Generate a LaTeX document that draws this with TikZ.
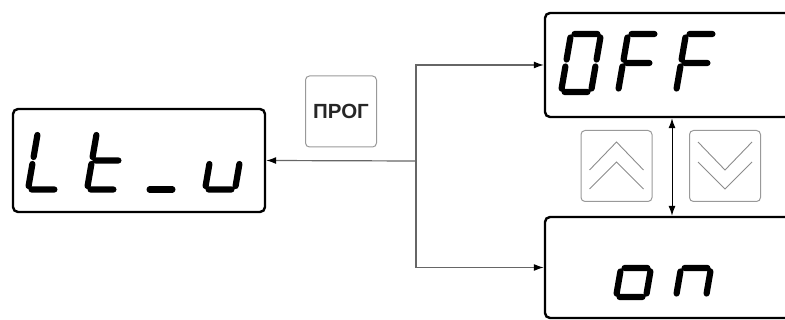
\documentclass[tikz,border=0pt]{standalone}
\usepackage{fontspec}
\newfontfamily\arialfont{Liberation Sans}
\usetikzlibrary{arrows.meta}
\begin{document}
\begin{tikzpicture}[x=1pt,y=-1pt,
  dispbox/.style={draw=black, line width=2.4pt, rounded corners=5pt, inner sep=0pt},
  keybox/.style={draw=black!40, line width=1pt, rounded corners=4pt, inner sep=0pt, minimum width=71pt, minimum height=71pt},
  chev/.style={draw=black!45, line width=0.9pt},
  conn/.style={draw=black!60, line width=1.2pt, -{Latex[length=10pt,width=7pt,color=black]}},
  dblarrow/.style={draw=black, line width=1pt, {Latex[length=10pt,width=7pt]}-{Latex[length=10pt,width=7pt]}},
  segline/.style={line width=6.2pt, line cap=round, draw=black},
  sa/.style={insert path={(13.6,-58) -- (36.4,-58)}},
  sb/.style={insert path={(39.4,-54.5) -- (35.6,-32.5)}},
  sc/.style={insert path={(34.4,-25.5) -- (30.6,-3.5)}},
  sd/.style={insert path={(3.6,0) -- (26.4,0)}},
  se/.style={insert path={(0.6,-3.5) -- (4.4,-25.5)}},
  sf/.style={insert path={(5.6,-32.5) -- (9.4,-54.5)}},
  sg/.style={insert path={(8.6,-29) -- (31.4,-29)}}
]
\newcommand\sdigit[2]{\begin{scope}[shift={#1}]\draw[segline,#2];\end{scope}}
\useasboundingbox (0,0) rectangle (785,320);
\clip (0,0) rectangle (785,320);

% display boxes
\node[dispbox, minimum width=252pt, minimum height=103pt] (ltu) at (139,160.5) {};
\node[dispbox, minimum width=260pt, minimum height=104pt] (off) at (675,65) {};
\node[dispbox, minimum width=260pt, minimum height=101pt] (on) at (675,267.5) {};

% keys
\node[keybox, font=\arialfont\bfseries\fontsize{20.5}{22}\selectfont, text=black!85] (prog) at (341,111.5) {ПРОГ};
\node[keybox] (up) at (616.5,166) {};
\node[keybox] (down) at (725,166) {};

\draw[chev] ([shift={(-27,4)}]up.center) -- ([shift={(0,-24)}]up.center) -- ([shift={(27,4)}]up.center);
\draw[chev] ([shift={(-27,23)}]up.center) -- ([shift={(0,-4)}]up.center) -- ([shift={(27,23)}]up.center);
\draw[chev] ([shift={(-27,-24)}]down.center) -- ([shift={(0,4)}]down.center) -- ([shift={(27,-24)}]down.center);
\draw[chev] ([shift={(-27,-4)}]down.center) -- ([shift={(0,23)}]down.center) -- ([shift={(27,-4)}]down.center);

% connectors
\coordinate (br) at (416,161);
\draw[conn] (br) -- (ltu.east);
\draw[conn] (br) |- (off.west);
\draw[conn] (br) |- (on.west);
\coordinate (dx) at (672,167);
\draw[dblarrow] (dx |- off.south) -- (dx |- on.north);

% seven-segment text: Lt_u
\sdigit{(28,189.5)}{sd,se,sf}
\sdigit{(87,189.5)}{sd,se,sf,sg}
\sdigit{(146,189.5)}{sd}
\sdigit{(205,189.5)}{sc,sd,se}
% OFF
\sdigit{(561,92)}{sa,sb,sc,sd,se,sf}
\sdigit{(618,92)}{sa,se,sf,sg}
\sdigit{(676,92)}{sa,se,sf,sg}
% on
\sdigit{(616,297)}{sc,sd,se,sg}
\sdigit{(676,297)}{sc,se,sg}
\end{tikzpicture}
\end{document}
